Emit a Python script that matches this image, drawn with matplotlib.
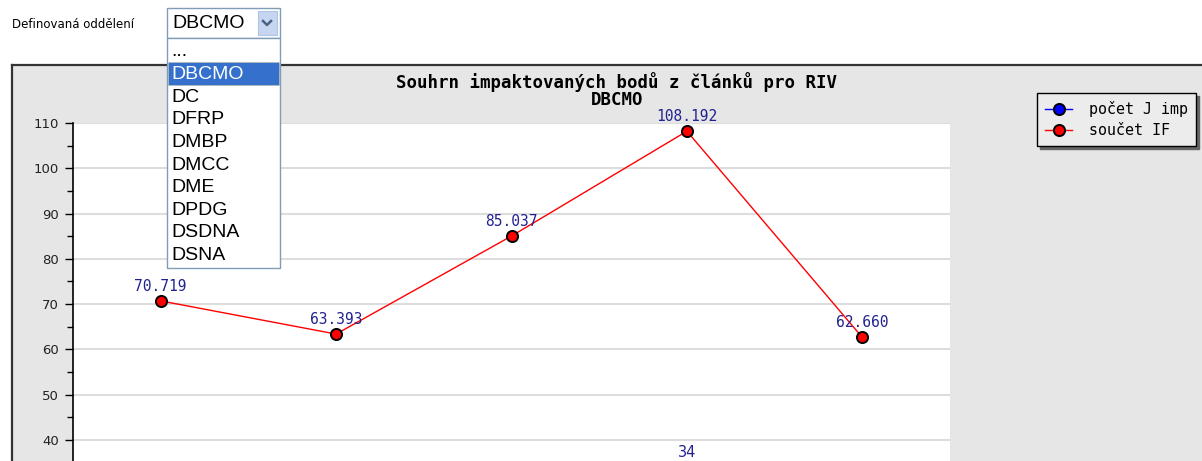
import matplotlib.pyplot as plt
import matplotlib.patches as mpatches
from matplotlib.lines import Line2D
from matplotlib.ticker import MultipleLocator

W, H = 1202, 461

# data
categories = ['2008', '2009', '2010', '2011', '2012']
soucet_if = [70.719, 63.393, 85.037, 108.192, 62.660]
pocet_j = [27, 24, 30, 34, 22]
departments = ['...', 'DBCMO', 'DC', 'DFRP', 'DMBP', 'DMCC', 'DME', 'DPDG', 'DSDNA', 'DSNA']
selected = 'DBCMO'


def px(x, y):
    return x / W, 1 - y / H


fig = plt.figure(figsize=(W / 100, H / 100), dpi=100)
fig.patch.set_facecolor('white')

# grey chart panel
x0, y0 = px(12, 65)
fig.patches.append(mpatches.Rectangle((x0, 0), 1 - x0, y0, transform=fig.transFigure,
                                      facecolor='#e6e6e6', edgecolor='none', zorder=-2))
fig.add_artist(Line2D([x0, 1], [y0, y0], color='#333333', lw=1.6, zorder=-1))
fig.add_artist(Line2D([x0, x0], [0, y0], color='#333333', lw=1.6, zorder=-1))

# plot area: 110 at y=123, 40 at y=440
ymin, ymax = 0, 110
ppu = (440 - 123) / 70.0
bottom_px = 123 + (ymax - ymin) * ppu
l, t = px(73, 123)
r, b = px(950, bottom_px)
ax = fig.add_axes([l, b, r - l, t - b])
ax.set_facecolor('white')
ax.set_xlim(-0.5, len(categories) - 0.5)
ax.set_ylim(ymin, ymax)
for s in ['top', 'right', 'bottom']:
    ax.spines[s].set_visible(False)
ax.spines['left'].set_color('black')
ax.spines['left'].set_linewidth(1.2)
ax.yaxis.set_major_locator(MultipleLocator(10))
ax.yaxis.set_minor_locator(MultipleLocator(5))
ax.tick_params(axis='y', which='major', length=6, width=1, labelsize=9.5, pad=4,
               labelcolor='#222222')
ax.tick_params(axis='y', which='minor', length=4, width=1)
ax.set_xticks(range(len(categories)))
ax.set_xticklabels(categories)
ax.tick_params(axis='x', length=0, labelbottom=False)
ax.grid(axis='y', color='#dddddd', lw=1.5)
ax.set_axisbelow(True)

xs = list(range(len(categories)))
l1, = ax.plot(xs, pocet_j, '-o', color='blue', lw=1, ms=8, mfc='blue', mec='black', mew=1.4,
              label='počet J imp', clip_on=False)
l2, = ax.plot(xs, soucet_if, '-o', color='red', lw=1, ms=8, mfc='red', mec='black', mew=1.4,
              label='součet IF', clip_on=False)
for x, v in zip(xs, soucet_if):
    ax.annotate('%.3f' % v, (x, v), xytext=(0, 5), textcoords='offset points', ha='center',
                va='bottom', color='#22228f', family='DejaVu Sans Mono', fontsize=10.5)
for x, v in zip(xs, pocet_j):
    ax.annotate('%d' % v, (x, v), xytext=(0, 5), textcoords='offset points', ha='center',
                va='bottom', color='#22228f', family='DejaVu Sans', fontsize=10.5)

fig.text(*px(617, 82), 'Souhrn impaktovaných bodů z článků pro RIV', ha='center', va='center',
         family='DejaVu Sans Mono', weight='bold', fontsize=12.5)
fig.text(*px(617, 100), selected, ha='center', va='center',
         family='DejaVu Sans Mono', weight='bold', fontsize=12.5)

lx, ly = px(1037, 93)
fig.legend(handles=[l1, l2], loc='upper left', bbox_to_anchor=(lx, ly), frameon=True,
           fancybox=False, shadow={'color': '#666666', 'alpha': 1}, edgecolor='black',
           facecolor='#ececec', framealpha=1, prop={'family': 'DejaVu Sans Mono', 'size': 10.8},
           handlelength=1.8, borderpad=0.55, labelspacing=0.4, handletextpad=1.1,
           borderaxespad=0)

# department selector
fig.text(*px(12, 25), 'Definovaná oddělení', ha='left', va='center', fontsize=8.5)
sx0, sx1 = 167, 280
bx, by = px(sx0, 38)
fig.patches.append(mpatches.Rectangle((bx, by), (sx1 - sx0) / W, 30 / H, transform=fig.transFigure,
                                      facecolor='white', edgecolor='#7f9db9', lw=1, zorder=5))
ax_, ay_ = px(258, 35)
fig.patches.append(mpatches.Rectangle((ax_, ay_), 19 / W, 24 / H, transform=fig.transFigure,
                                      facecolor='#c6d5f0', edgecolor='#b0c4e8', lw=0.8, zorder=6))
fig.add_artist(Line2D([px(263, 21)[0], px(267, 25)[0], px(271, 21)[0]],
                      [px(263, 21)[1], px(267, 25)[1], px(271, 21)[1]],
                      color='#4d6185', lw=1.8, zorder=7))
fig.text(*px(172, 23), selected, ha='left', va='center', fontsize=14,
         family='Liberation Sans', zorder=7)

lx0, ly0 = px(sx0, 268)
fig.patches.append(mpatches.Rectangle((lx0, ly0), (sx1 - sx0) / W, 230 / H, transform=fig.transFigure,
                                      facecolor='white', edgecolor='#7f9db9', lw=1, zorder=5))
row_h = 22.6
for i, d in enumerate(departments):
    yc = 51 + i * row_h
    color = 'black'
    if d == selected:
        hx, hy = px(168, yc + row_h / 2)
        fig.patches.append(mpatches.Rectangle((hx, hy), 111 / W, row_h / H, transform=fig.transFigure,
                                              facecolor='#3470cc', edgecolor='#e0c070', lw=0.6,
                                              linestyle=':', zorder=6))
        color = 'white'
    fig.text(*px(171, yc + 1), d, ha='left', va='center', fontsize=14, family='Liberation Sans',
             color=color, zorder=7)

fig.savefig('out.png', dpi=100)
